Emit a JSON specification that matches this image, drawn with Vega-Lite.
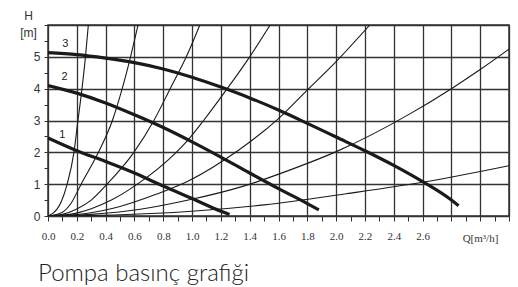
{
  "$schema": "https://vega.github.io/schema/vega-lite/v6.json",
  "autosize": {"type": "none"},
  "width": 461,
  "height": 191,
  "padding": {"left": 48, "top": 25, "right": 9, "bottom": 71},
  "background": "white",
  "config": {
    "view": {"stroke": "#333", "strokeWidth": 1.5},
    "axis": {"labelFont": "Liberation Sans", "titleFont": "Liberation Sans"}
  },
  "title": {
    "text": "Pompa basınç grafiği",
    "orient": "bottom",
    "anchor": "start",
    "frame": "group",
    "font": "Lato",
    "fontWeight": 300,
    "fontSize": 24,
    "color": "#222",
    "offset": 19,
    "dx": -10
  },
  "datasets": {
    "system": [
      {"c": "A", "Q": 0, "H": 0}, {"c": "A", "Q": 0.06, "H": 0.2}, {"c": "A", "Q": 0.092, "H": 0.45}, {"c": "A", "Q": 0.133, "H": 1}, {"c": "A", "Q": 0.18, "H": 2}, {"c": "A", "Q": 0.205, "H": 2.9}, {"c": "A", "Q": 0.236, "H": 4}, {"c": "A", "Q": 0.26, "H": 5}, {"c": "A", "Q": 0.28, "H": 6},
      {"c": "B", "Q": 0, "H": 0}, {"c": "B", "Q": 0.1, "H": 0.12}, {"c": "B", "Q": 0.16, "H": 0.4}, {"c": "B", "Q": 0.23, "H": 1}, {"c": "B", "Q": 0.35, "H": 2}, {"c": "B", "Q": 0.447, "H": 3}, {"c": "B", "Q": 0.515, "H": 4}, {"c": "B", "Q": 0.573, "H": 5}, {"c": "B", "Q": 0.625, "H": 6},
      {"c": "C", "Q": 0, "H": 0}, {"c": "C", "Q": 0.1, "H": 0.05}, {"c": "C", "Q": 0.2, "H": 0.22}, {"c": "C", "Q": 0.3, "H": 0.5}, {"c": "C", "Q": 0.41, "H": 1}, {"c": "C", "Q": 0.596, "H": 2}, {"c": "C", "Q": 0.735, "H": 3}, {"c": "C", "Q": 0.848, "H": 4}, {"c": "C", "Q": 0.96, "H": 5}, {"c": "C", "Q": 1.054, "H": 6},
      {"c": "D", "Q": 0, "H": 0}, {"c": "D", "Q": 0.15, "H": 0.05}, {"c": "D", "Q": 0.3, "H": 0.23}, {"c": "D", "Q": 0.44, "H": 0.5}, {"c": "D", "Q": 0.62, "H": 1}, {"c": "D", "Q": 0.89, "H": 2}, {"c": "D", "Q": 0.974, "H": 2.4}, {"c": "D", "Q": 1.08, "H": 3}, {"c": "D", "Q": 1.244, "H": 4}, {"c": "D", "Q": 1.4, "H": 5}, {"c": "D", "Q": 1.542, "H": 6},
      {"c": "E", "Q": 0, "H": 0}, {"c": "E", "Q": 0.25, "H": 0.07}, {"c": "E", "Q": 0.5, "H": 0.3}, {"c": "E", "Q": 0.75, "H": 0.68}, {"c": "E", "Q": 0.974, "H": 1.1}, {"c": "E", "Q": 1.317, "H": 2.05}, {"c": "E", "Q": 1.592, "H": 3.03}, {"c": "E", "Q": 1.787, "H": 3.9}, {"c": "E", "Q": 2.0, "H": 4.85}, {"c": "E", "Q": 2.234, "H": 6},
      {"c": "F", "Q": 0, "H": 0}, {"c": "F", "Q": 0.3, "H": 0.05}, {"c": "F", "Q": 0.64, "H": 0.21}, {"c": "F", "Q": 0.974, "H": 0.5}, {"c": "F", "Q": 1.352, "H": 0.93}, {"c": "F", "Q": 1.7, "H": 1.48}, {"c": "F", "Q": 2.005, "H": 2.03}, {"c": "F", "Q": 2.509, "H": 3.2}, {"c": "F", "Q": 2.8, "H": 4.0}, {"c": "F", "Q": 3.0, "H": 4.6}, {"c": "F", "Q": 3.2, "H": 5.24},
      {"c": "G", "Q": 0, "H": 0}, {"c": "G", "Q": 0.5, "H": 0.04}, {"c": "G", "Q": 0.974, "H": 0.14}, {"c": "G", "Q": 1.5, "H": 0.35}, {"c": "G", "Q": 2.07, "H": 0.7}, {"c": "G", "Q": 2.6, "H": 1.06}, {"c": "G", "Q": 3.2, "H": 1.58}
    ],
    "pump": [
      {"c": "1", "Q": 0, "H": 2.45}, {"c": "1", "Q": 0.2, "H": 2.05}, {"c": "1", "Q": 0.4, "H": 1.71}, {"c": "1", "Q": 0.6, "H": 1.35}, {"c": "1", "Q": 0.8, "H": 0.94}, {"c": "1", "Q": 1.0, "H": 0.55}, {"c": "1", "Q": 1.2, "H": 0.15}, {"c": "1", "Q": 1.26, "H": 0.05},
      {"c": "2", "Q": 0, "H": 4.1}, {"c": "2", "Q": 0.2, "H": 3.86}, {"c": "2", "Q": 0.4, "H": 3.55}, {"c": "2", "Q": 0.6, "H": 3.18}, {"c": "2", "Q": 0.8, "H": 2.78}, {"c": "2", "Q": 1.0, "H": 2.33}, {"c": "2", "Q": 1.2, "H": 1.85}, {"c": "2", "Q": 1.4, "H": 1.35}, {"c": "2", "Q": 1.6, "H": 0.86}, {"c": "2", "Q": 1.8, "H": 0.39}, {"c": "2", "Q": 1.88, "H": 0.19},
      {"c": "3", "Q": 0, "H": 5.13}, {"c": "3", "Q": 0.2, "H": 5.07}, {"c": "3", "Q": 0.4, "H": 4.96}, {"c": "3", "Q": 0.6, "H": 4.82}, {"c": "3", "Q": 0.8, "H": 4.62}, {"c": "3", "Q": 1.0, "H": 4.36}, {"c": "3", "Q": 1.2, "H": 4.05}, {"c": "3", "Q": 1.4, "H": 3.71}, {"c": "3", "Q": 1.6, "H": 3.33}, {"c": "3", "Q": 1.8, "H": 2.91}, {"c": "3", "Q": 2.0, "H": 2.48}, {"c": "3", "Q": 2.2, "H": 2.05}, {"c": "3", "Q": 2.4, "H": 1.59}, {"c": "3", "Q": 2.6, "H": 1.08}, {"c": "3", "Q": 2.8, "H": 0.5}, {"c": "3", "Q": 2.85, "H": 0.32}
    ],
    "labels": [
      {"t": "1", "Q": 0.1, "H": 2.4},
      {"t": "2", "Q": 0.115, "H": 4.2},
      {"t": "3", "Q": 0.12, "H": 5.25}
    ]
  },
  "encoding": {
    "x": {
      "field": "Q", "type": "quantitative",
      "scale": {"domain": [0, 3.2], "nice": false, "zero": false},
      "axis": {
        "values": [0, 0.1, 0.2, 0.3, 0.4, 0.5, 0.6, 0.7, 0.8, 0.9, 1.0, 1.1, 1.2, 1.3, 1.4, 1.5, 1.6, 1.7, 1.8, 1.9, 2.0, 2.1, 2.2, 2.3, 2.4, 2.5, 2.6, 2.7, 2.8, 2.9, 3.0, 3.1, 3.2],
        "labelExpr": "(datum.value < 2.65 && abs(datum.value*5 - round(datum.value*5)) < 0.01) ? format(datum.value, '.1f') : ''",
        "grid": true,
        "gridColor": "#333",
        "gridWidth": 1.3,
        "gridOpacity": {"condition": {"test": "abs(datum.value*5 - round(datum.value*5)) < 0.01", "value": 1}, "value": 0},
        "domain": false,
        "ticks": true,
        "tickSize": 5,
        "tickColor": "#333",
        "tickWidth": 1,
        "labelPadding": 9,
        "labelFont": "Liberation Sans Narrow",
        "labelFontSize": 11,
        "labelColor": "#333",
        "labelFlush": false,
        "title": "Q[m³/h]",
        "titleFont": "Liberation Sans Narrow",
        "titleFontSize": 11,
        "titleFontWeight": "normal",
        "titleColor": "#333",
        "titleX": 432,
        "titleY": 25,
        "titleBaseline": "alphabetic",
        "titleAlign": "center"
      }
    },
    "y": {
      "field": "H", "type": "quantitative",
      "scale": {"domain": [0, 6], "nice": false},
      "axis": {
        "values": [0, 0.5, 1, 1.5, 2, 2.5, 3, 3.5, 4, 4.5, 5, 5.5, 6],
        "labelExpr": "(datum.value <= 5 && datum.value == round(datum.value)) ? format(datum.value, 'd') : ''",
        "grid": true,
        "gridColor": "#333",
        "gridWidth": 1.3,
        "gridOpacity": {"condition": {"test": "datum.value == round(datum.value)", "value": 1}, "value": 0},
        "domain": false,
        "tickSize": 4,
        "tickColor": "#333",
        "labelPadding": 4,
        "labelFontSize": 12,
        "labelColor": "#333",
        "labelFlush": false,
        "title": ["H", "[m]"],
        "titleAngle": 0,
        "titleFontSize": 12,
        "titleFontWeight": "normal",
        "titleColor": "#333",
        "titleLineHeight": 17,
        "titleX": -20,
        "titleY": -6,
        "titleAlign": "center",
        "titleBaseline": "alphabetic"
      }
    }
  },
  "layer": [
    {
      "data": {"name": "system"},
      "mark": {"type": "line", "interpolate": "monotone", "color": "#1a1a1a", "strokeWidth": 1.1, "clip": true},
      "encoding": {"detail": {"field": "c"}}
    },
    {
      "data": {"name": "pump"},
      "mark": {"type": "line", "interpolate": "monotone", "color": "#1a1a1a", "strokeWidth": 3.2, "clip": true},
      "encoding": {"detail": {"field": "c"}}
    },
    {
      "data": {"name": "labels"},
      "mark": {"type": "text", "font": "Liberation Sans", "fontSize": 11, "color": "#222", "baseline": "bottom", "align": "center"},
      "encoding": {"text": {"field": "t"}}
    }
  ]
}
